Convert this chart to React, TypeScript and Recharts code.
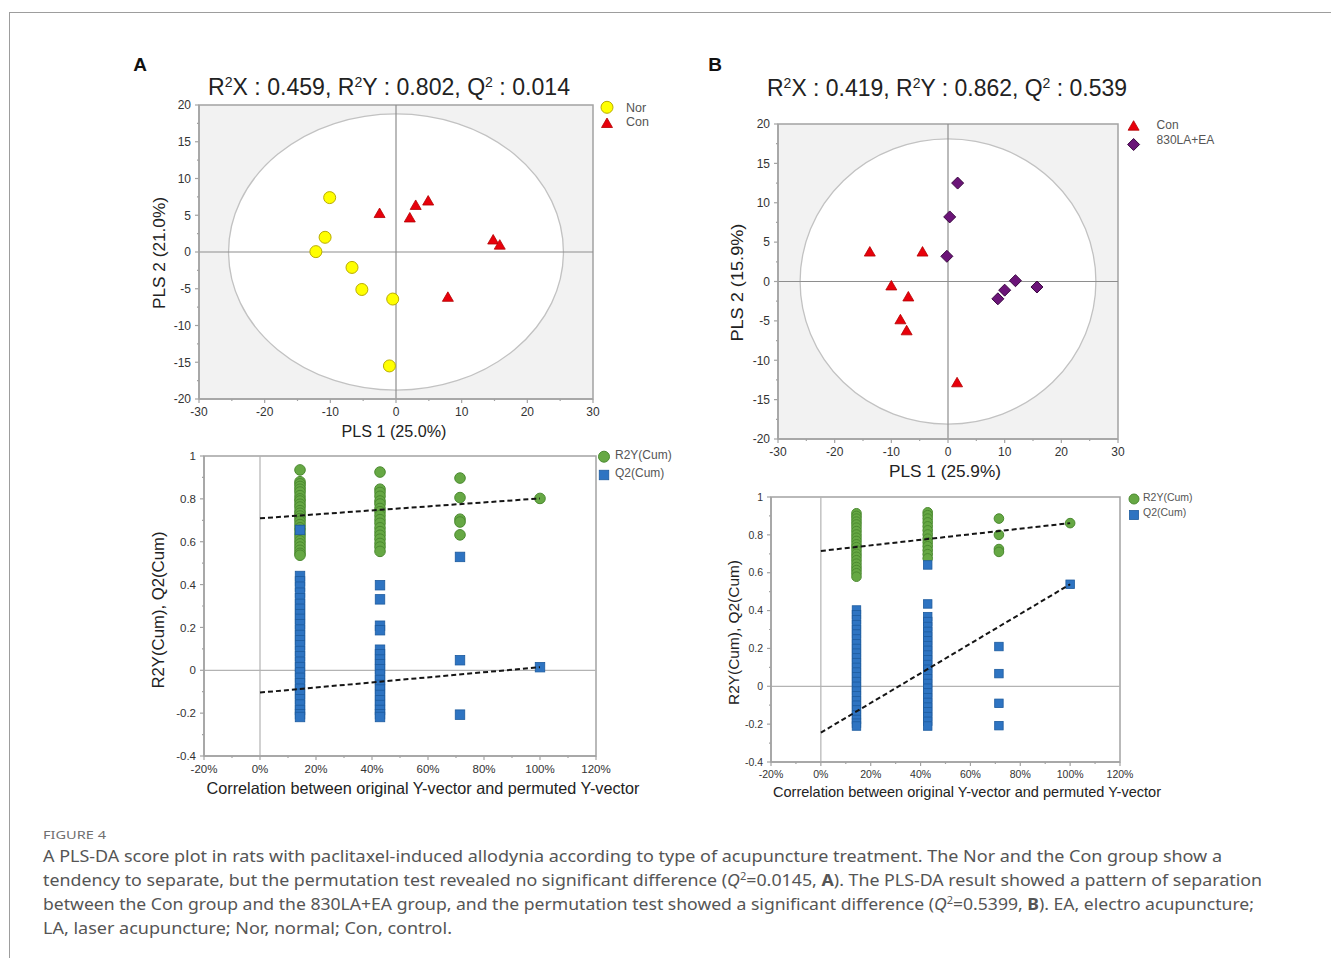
import React from 'react';
import { ScatterChart, Scatter, XAxis, YAxis, CartesianGrid, ReferenceLine, ReferenceArea } from 'recharts';

const FONT = '"Liberation Sans", Arial, Helvetica, sans-serif';
const CAP_FONT = '"Noto Sans", "Open Sans", sans-serif';
const AXIS = '#a3a3a3';

// ---------------- Panel A : PLS-DA score plot (Nor vs Con) ----------------
const norX = [-10.1, -10.8, -12.2, -6.7, -5.2, -0.5, -1.0];
const norY = [7.4, 2.0, 0.05, -2.1, -5.1, -6.4, -15.5];
const conAX = [-2.5, 2.1, 3.0, 4.9, 14.8, 15.8, 7.9];
const conAY = [5.3, 4.7, 6.4, 7.0, 1.7, 1.0, -6.1];
const ellipseA = [25.5, 18.8];

// ---------------- Panel B : PLS-DA score plot (Con vs 830LA+EA) ----------------
const conBX = [-13.8, -4.5, -10.0, -7.0, -8.4, -7.3, 1.6];
const conBY = [3.8, 3.8, -0.5, -1.9, -4.8, -6.2, -12.8];
const laeaX = [1.7, 0.3, -0.2, 8.8, 10.0, 11.9, 15.7];
const laeaY = [12.5, 8.2, 3.2, -2.2, -1.1, 0.1, -0.7];
const ellipseB = [26.1, 18.1];

// ---------------- permutation tests ----------------
const permCorr = [14.29, 42.86, 71.43, 100];
const permLineX = [0, 100];

const permA_R2Y_14 = [0.935, 0.88, 0.87, 0.858, 0.845, 0.832, 0.815, 0.8, 0.79, 0.775, 0.762, 0.745, 0.733, 0.72, 0.708, 0.695, 0.68, 0.665, 0.652, 0.635, 0.62, 0.604, 0.59, 0.575, 0.56, 0.546, 0.537];
const permA_R2Y_43 = [0.925, 0.845, 0.83, 0.812, 0.79, 0.776, 0.755, 0.74, 0.722, 0.703, 0.686, 0.665, 0.647, 0.63, 0.612, 0.592, 0.575, 0.555];
const permA_R2Y_71 = [0.897, 0.806, 0.705, 0.692, 0.632];
const permA_R2Y_100 = [0.802];
const permA_Q2_14 = [0.655, 0.44, 0.415, 0.39, 0.362, 0.336, 0.31, 0.287, 0.262, 0.24, 0.215, 0.19, 0.165, 0.14, 0.117, 0.09, 0.066, 0.04, 0.015, -0.01, -0.035, -0.06, -0.086, -0.11, -0.135, -0.16, -0.185, -0.205, -0.218];
const permA_Q2_43 = [0.397, 0.331, 0.208, 0.187, 0.096, 0.075, 0.05, 0.028, 0.005, -0.02, -0.045, -0.068, -0.09, -0.115, -0.14, -0.162, -0.185, -0.205, -0.218];
const permA_Q2_71 = [0.529, 0.047, -0.207];
const permA_Q2_100 = [0.0145];
const permA_R2Line = [0.709, 0.802];
const permA_Q2Line = [-0.104, 0.0145];

const permB_R2Y_14 = [0.914, 0.9, 0.886, 0.87, 0.855, 0.838, 0.82, 0.802, 0.785, 0.768, 0.75, 0.735, 0.718, 0.7, 0.684, 0.666, 0.648, 0.63, 0.614, 0.597, 0.579];
const permB_R2Y_43 = [0.919, 0.904, 0.886, 0.866, 0.845, 0.824, 0.802, 0.78, 0.76, 0.74, 0.719, 0.698, 0.676];
const permB_R2Y_71 = [0.886, 0.8, 0.725, 0.71];
const permB_R2Y_100 = [0.862];
const permB_Q2_14 = [0.403, 0.378, 0.352, 0.326, 0.3, 0.276, 0.25, 0.224, 0.2, 0.175, 0.15, 0.125, 0.1, 0.075, 0.05, 0.025, 0.0, -0.025, -0.05, -0.076, -0.1, -0.125, -0.15, -0.175, -0.195, -0.21];
const permB_Q2_43 = [0.641, 0.435, 0.368, 0.342, 0.316, 0.29, 0.265, 0.24, 0.215, 0.19, 0.165, 0.14, 0.115, 0.09, 0.065, 0.04, 0.015, -0.01, -0.035, -0.06, -0.085, -0.11, -0.135, -0.16, -0.185, -0.21];
const permB_Q2_71 = [0.21, 0.067, -0.09, -0.208];
const permB_Q2_100 = [0.539];
const permB_R2Line = [0.715, 0.862];
const permB_Q2Line = [-0.245, 0.539];

// ---------------- ticks ----------------
const scoreXTicks = [-30, -25, -20, -15, -10, -5, 0, 5, 10, 15, 20, 25, 30];
const scoreXMajors = [-30, -20, -10, 0, 10, 20, 30];
const scoreYTicks = [-20, -17.5, -15, -12.5, -10, -7.5, -5, -2.5, 0, 2.5, 5, 7.5, 10, 12.5, 15, 17.5, 20];
const scoreYMajors = [-20, -15, -10, -5, 0, 5, 10, 15, 20];
const permXTicks = [-20, -10, 0, 10, 20, 30, 40, 50, 60, 70, 80, 90, 100, 110, 120];
const permXMajors = [-20, 0, 20, 40, 60, 80, 100, 120];
const permYTicks = [-0.4, -0.3, -0.2, -0.1, 0, 0.1, 0.2, 0.3, 0.4, 0.5, 0.6, 0.7, 0.8, 0.9, 1];
const permYMajors = [-0.4, -0.2, 0, 0.2, 0.4, 0.6, 0.8, 1];

// ---------------- helpers ----------------
const zip = (xs: number[], ys: number[]) => xs.map((x, i) => ({ x, y: ys[i] }));
const groups = (gs: number[][]) => gs.flatMap((vals, gi) => vals.map((v) => ({ x: permCorr[gi], y: v })));
const near = (a: number, b: number) => Math.abs(a - b) < 1e-6;

type TickCfg = { majors: number[]; fmt: (v: number) => string; fontSize: number; major: number; minor: number; gap: number };

const xTick = (c: TickCfg) => (p: any) => {
  const v = p.payload.value;
  const isMajor = c.majors.some((m) => near(m, v));
  return (
    <g>
      <line x1={p.x} x2={p.x} y1={p.y} y2={p.y + (isMajor ? c.major : c.minor)} stroke={AXIS} strokeWidth={1.2} />
      {isMajor && (
        <text x={p.x} y={p.y + c.major + c.gap} dy="0.74em" textAnchor="middle" fontSize={c.fontSize} fill="#333" fontFamily={FONT}>
          {c.fmt(v)}
        </text>
      )}
    </g>
  );
};
const yTick = (c: TickCfg) => (p: any) => {
  const v = p.payload.value;
  const isMajor = c.majors.some((m) => near(m, v));
  return (
    <g>
      <line x1={p.x} x2={p.x - (isMajor ? c.major : c.minor)} y1={p.y} y2={p.y} stroke={AXIS} strokeWidth={1.2} />
      {isMajor && (
        <text x={p.x - c.major - c.gap} y={p.y} dy="0.36em" textAnchor="end" fontSize={c.fontSize} fill="#333" fontFamily={FONT}>
          {c.fmt(v)}
        </text>
      )}
    </g>
  );
};

const circleShape = (r: number, fill: string, stroke: string) => (p: any) => (
  <circle cx={p.cx} cy={p.cy} r={r} fill={fill} stroke={stroke} strokeWidth={1} />
);
const squareShape = (s: number, fill: string, stroke: string) => (p: any) => (
  <rect x={p.cx - s / 2} y={p.cy - s / 2} width={s} height={s} fill={fill} stroke={stroke} strokeWidth={0.8} />
);
const triShape = (s: number, fill: string, stroke: string) => (p: any) => (
  <polygon
    points={`${p.cx},${p.cy - s * 0.5} ${p.cx + s * 0.55},${p.cy + s * 0.45} ${p.cx - s * 0.55},${p.cy + s * 0.45}`}
    fill={fill}
    stroke={stroke}
    strokeWidth={0.8}
  />
);
const diamondShape = (s: number, fill: string, stroke: string) => (p: any) => (
  <polygon
    points={`${p.cx},${p.cy - s / 2} ${p.cx + s / 2},${p.cy} ${p.cx},${p.cy + s / 2} ${p.cx - s / 2},${p.cy}`}
    fill={fill}
    stroke={stroke}
    strokeWidth={1}
  />
);
const noShape = () => <g />;
const ellipseShape = (p: any) => (
  <ellipse
    cx={p.x + p.width / 2}
    cy={p.y + p.height / 2}
    rx={Math.abs(p.width) / 2}
    ry={Math.abs(p.height) / 2}
    fill="#ffffff"
    stroke="#c2c2c2"
    strokeWidth={1.3}
  />
);

const YELLOW = circleShape(6, '#ffff00', '#b9ac00');
const RED_TRI = triShape(10, '#e8000b', '#b30000');
const PURPLE = diamondShape(12, '#6b1478', '#3a0840');
const GREEN = (r: number) => circleShape(r, '#66a844', '#4b8a30');
const BLUE = (s: number) => squareShape(s, '#2e74c2', '#1d5b9e');

type Rect = { x: number; y: number; w: number; h: number };
const PAD = { l: 60, t: 10, r: 30, b: 40 };

function ScorePanel({ rect, ellipse, tickFont, children }: { rect: Rect; ellipse: number[]; tickFont: number; children: React.ReactNode }) {
  return (
    <div style={{ position: 'absolute', left: rect.x - PAD.l, top: rect.y - PAD.t }}>
      <ScatterChart width={rect.w + PAD.l + PAD.r} height={rect.h + PAD.t + PAD.b} margin={{ top: PAD.t, right: PAD.r, left: 0, bottom: 0 }}>
        <CartesianGrid horizontal={false} vertical={false} fill="#f2f2f2" />
        <XAxis
          type="number"
          dataKey="x"
          domain={[-30, 30]}
          ticks={scoreXTicks}
          interval={0}
          allowDataOverflow
          height={PAD.b}
          tickSize={0}
          tickMargin={0}
          tickLine={false}
          axisLine={{ stroke: AXIS, strokeWidth: 1.5 }}
          tick={xTick({ majors: scoreXMajors, fmt: (v) => String(v), fontSize: tickFont, major: 4, minor: 2, gap: 4 })}
        />
        <YAxis
          type="number"
          dataKey="y"
          domain={[-20, 20]}
          ticks={scoreYTicks}
          interval={0}
          allowDataOverflow
          width={PAD.l}
          tickSize={0}
          tickMargin={0}
          tickLine={false}
          axisLine={{ stroke: AXIS, strokeWidth: 1.5 }}
          tick={yTick({ majors: scoreYMajors, fmt: (v) => String(v), fontSize: tickFont, major: 4, minor: 2, gap: 4 })}
        />
        <ReferenceArea x1={-ellipse[0]} x2={ellipse[0]} y1={-ellipse[1]} y2={ellipse[1]} shape={ellipseShape} />
        <ReferenceLine x={0} stroke="#8e8e8e" strokeWidth={1.2} />
        <ReferenceLine y={0} stroke="#8e8e8e" strokeWidth={1.2} />
        <ReferenceArea x1={-30} x2={30} y1={-20} y2={20} fill="none" fillOpacity={0} stroke={AXIS} strokeWidth={1.5} />
        {children}
      </ScatterChart>
    </div>
  );
}

function PermPanel({ rect, tickFont, children }: { rect: Rect; tickFont: number; children: React.ReactNode }) {
  return (
    <div style={{ position: 'absolute', left: rect.x - PAD.l, top: rect.y - PAD.t }}>
      <ScatterChart width={rect.w + PAD.l + PAD.r} height={rect.h + PAD.t + PAD.b} margin={{ top: PAD.t, right: PAD.r, left: 0, bottom: 0 }}>
        <XAxis
          type="number"
          dataKey="x"
          domain={[-20, 120]}
          ticks={permXTicks}
          interval={0}
          allowDataOverflow
          height={PAD.b}
          tickSize={0}
          tickMargin={0}
          tickLine={false}
          axisLine={{ stroke: AXIS, strokeWidth: 1.5 }}
          tick={xTick({ majors: permXMajors, fmt: (v) => `${v}%`, fontSize: tickFont, major: 4, minor: 2, gap: 4 })}
        />
        <YAxis
          type="number"
          dataKey="y"
          domain={[-0.4, 1]}
          ticks={permYTicks}
          interval={0}
          allowDataOverflow
          width={PAD.l}
          tickSize={0}
          tickMargin={0}
          tickLine={false}
          axisLine={{ stroke: AXIS, strokeWidth: 1.5 }}
          tick={yTick({ majors: permYMajors, fmt: (v) => String(Math.round(v * 10) / 10), fontSize: tickFont, major: 4, minor: 2, gap: 4 })}
        />
        <ReferenceLine x={0} stroke="#b3b3b3" strokeWidth={1.2} />
        <ReferenceLine y={0} stroke="#b3b3b3" strokeWidth={1.2} />
        <ReferenceArea x1={-20} x2={120} y1={-0.4} y2={1} fill="none" fillOpacity={0} stroke={AXIS} strokeWidth={1.5} />
        {children}
      </ScatterChart>
    </div>
  );
}

const DASH = { stroke: '#151515', strokeWidth: 2, strokeDasharray: '5 3' };

function Sup({ children, size, rise }: { children: React.ReactNode; size: number; rise: number }) {
  return (
    <tspan dy={-rise} fontSize={size}>
      {children}
    </tspan>
  );
}

export default function App() {
  const rectA: Rect = { x: 199, y: 105, w: 394, h: 294 };
  const rectB: Rect = { x: 778, y: 124, w: 340, h: 315 };
  const rectPA: Rect = { x: 204, y: 456, w: 392, h: 300 };
  const rectPB: Rect = { x: 771, y: 497, w: 349, h: 265 };

  const t = { fontFamily: FONT, fill: '#222' };
  const leg = { fontFamily: FONT, fill: '#555' };

  const titleTs = (a: string, b: string, c: string) => (
    <>
      R<Sup size={14} rise={8}>2</Sup>
      <tspan dy={8}>X : {a}, R</tspan>
      <Sup size={14} rise={8}>2</Sup>
      <tspan dy={8}>Y : {b}, Q</tspan>
      <Sup size={14} rise={8}>2</Sup>
      <tspan dy={8}> : {c}</tspan>
    </>
  );

  return (
    <div style={{ position: 'absolute', left: 0, top: 0, width: 1331, height: 958, background: '#fff', overflow: 'hidden' }}>
      <div style={{ position: 'absolute', left: 9, top: 12, width: 1330, height: 960, borderTop: '1.5px solid #9d9d9d', borderLeft: '1.5px solid #9d9d9d' }} />

      <ScorePanel rect={rectA} ellipse={ellipseA} tickFont={12}>
        <Scatter data={zip(norX, norY)} shape={YELLOW} isAnimationActive={false} />
        <Scatter data={zip(conAX, conAY)} shape={RED_TRI} isAnimationActive={false} />
      </ScorePanel>

      <ScorePanel rect={rectB} ellipse={ellipseB} tickFont={12}>
        <Scatter data={zip(conBX, conBY)} shape={RED_TRI} isAnimationActive={false} />
        <Scatter data={zip(laeaX, laeaY)} shape={PURPLE} isAnimationActive={false} />
      </ScorePanel>

      <PermPanel rect={rectPA} tickFont={11.5}>
        <Scatter data={groups([permA_R2Y_14, permA_R2Y_43, permA_R2Y_71, permA_R2Y_100])} shape={GREEN(5.3)} isAnimationActive={false} />
        <Scatter data={groups([permA_Q2_14, permA_Q2_43, permA_Q2_71, permA_Q2_100])} shape={BLUE(9.5)} isAnimationActive={false} />
        <Scatter data={zip(permLineX, permA_R2Line)} line={DASH} shape={noShape} isAnimationActive={false} />
        <Scatter data={zip(permLineX, permA_Q2Line)} line={DASH} shape={noShape} isAnimationActive={false} />
      </PermPanel>

      <PermPanel rect={rectPB} tickFont={10.5}>
        <Scatter data={groups([permB_R2Y_14, permB_R2Y_43, permB_R2Y_71, permB_R2Y_100])} shape={GREEN(4.8)} isAnimationActive={false} />
        <Scatter data={groups([permB_Q2_14, permB_Q2_43, permB_Q2_71, permB_Q2_100])} shape={BLUE(8.5)} isAnimationActive={false} />
        <Scatter data={zip(permLineX, permB_R2Line)} line={DASH} shape={noShape} isAnimationActive={false} />
        <Scatter data={zip(permLineX, permB_Q2Line)} line={DASH} shape={noShape} isAnimationActive={false} />
      </PermPanel>

      <svg width={1331} height={958} style={{ position: 'absolute', left: 0, top: 0, pointerEvents: 'none' }}>
        {/* panel letters */}
        <text x={140} y={71} fontSize={19} fontWeight="bold" textAnchor="middle" {...t} fill="#111">A</text>
        <text x={715} y={71} fontSize={19} fontWeight="bold" textAnchor="middle" {...t} fill="#111">B</text>

        {/* titles */}
        <text x={389} y={95} fontSize={23} textAnchor="middle" textLength={362} lengthAdjust="spacingAndGlyphs" {...t}>
          {titleTs('0.459', '0.802', '0.014')}
        </text>
        <text x={947} y={95.5} fontSize={23} textAnchor="middle" textLength={360} lengthAdjust="spacingAndGlyphs" {...t}>
          {titleTs('0.419', '0.862', '0.539')}
        </text>

        {/* score plot axis titles */}
        <text x={394} y={437} fontSize={16} textAnchor="middle" textLength={105} lengthAdjust="spacingAndGlyphs" {...t}>PLS 1 (25.0%)</text>
        <text transform="translate(165.2,253) rotate(-90)" fontSize={16} textAnchor="middle" textLength={112} lengthAdjust="spacingAndGlyphs" {...t}>PLS 2 (21.0%)</text>
        <text x={945} y={477} fontSize={17} textAnchor="middle" textLength={112} lengthAdjust="spacingAndGlyphs" {...t}>PLS 1 (25.9%)</text>
        <text transform="translate(742.8,282.6) rotate(-90)" fontSize={17} textAnchor="middle" textLength={118} lengthAdjust="spacingAndGlyphs" {...t}>PLS 2 (15.9%)</text>

        {/* permutation axis titles */}
        <text x={423} y={794} fontSize={16.5} textAnchor="middle" textLength={433} lengthAdjust="spacingAndGlyphs" {...t}>Correlation between original Y-vector and permuted Y-vector</text>
        <text transform="translate(164.3,610) rotate(-90)" fontSize={16.5} textAnchor="middle" textLength={157} lengthAdjust="spacingAndGlyphs" {...t}>R2Y(Cum), Q2(Cum)</text>
        <text x={967} y={797} fontSize={15} textAnchor="middle" textLength={388} lengthAdjust="spacingAndGlyphs" {...t}>Correlation between original Y-vector and permuted Y-vector</text>
        <text transform="translate(738.8,632.5) rotate(-90)" fontSize={15.3} textAnchor="middle" textLength={145} lengthAdjust="spacingAndGlyphs" {...t}>R2Y(Cum), Q2(Cum)</text>

        {/* legends */}
        {YELLOW({ cx: 607, cy: 107.3 })}
        {RED_TRI({ cx: 607, cy: 123 })}
        <text x={626} y={111.8} fontSize={12.5} {...leg}>Nor</text>
        <text x={626} y={126.2} fontSize={12.5} {...leg}>Con</text>

        {RED_TRI({ cx: 1133.6, cy: 125.7 })}
        {PURPLE({ cx: 1133.6, cy: 144.5 })}
        <text x={1156.6} y={129} fontSize={12} {...leg}>Con</text>
        <text x={1156.6} y={144.3} fontSize={12} {...leg}>830LA+EA</text>

        {GREEN(5.5)({ cx: 604, cy: 456.7 })}
        {BLUE(9.5)({ cx: 604, cy: 475 })}
        <text x={615} y={459.2} fontSize={12} {...leg}>R2Y(Cum)</text>
        <text x={615} y={477.2} fontSize={12} {...leg}>Q2(Cum)</text>

        {GREEN(5)({ cx: 1134, cy: 499 })}
        {BLUE(9)({ cx: 1134, cy: 515 })}
        <text x={1143} y={500.5} fontSize={10.5} {...leg}>R2Y(Cum)</text>
        <text x={1143} y={515.8} fontSize={10.5} {...leg}>Q2(Cum)</text>

        {/* caption */}
        <text x={43} y={839} fontSize={11.5} fontFamily={CAP_FONT} fill="#6f6f6f" textLength={63} lengthAdjust="spacingAndGlyphs">FIGURE 4</text>
        <text x={43} y={862} fontSize={16} fontFamily={CAP_FONT} fill="#555" textLength={1179} lengthAdjust="spacingAndGlyphs">
          A PLS-DA score plot in rats with paclitaxel-induced allodynia according to type of acupuncture treatment. The Nor and the Con group show a
        </text>
        <text x={43} y={886} fontSize={16} fontFamily={CAP_FONT} fill="#555" textLength={1219} lengthAdjust="spacingAndGlyphs">
          tendency to separate, but the permutation test revealed no significant difference (<tspan fontStyle="italic">Q</tspan>
          <tspan dy={-6} fontSize={10}>2</tspan>
          <tspan dy={6}>=0.0145, </tspan>
          <tspan fontWeight="bold">A</tspan>). The PLS-DA result showed a pattern of separation
        </text>
        <text x={43} y={910} fontSize={16} fontFamily={CAP_FONT} fill="#555" textLength={1211} lengthAdjust="spacingAndGlyphs">
          between the Con group and the 830LA+EA group, and the permutation test showed a significant difference (<tspan fontStyle="italic">Q</tspan>
          <tspan dy={-6} fontSize={10}>2</tspan>
          <tspan dy={6}>=0.5399, </tspan>
          <tspan fontWeight="bold">B</tspan>). EA, electro acupuncture;
        </text>
        <text x={43} y={934} fontSize={16} fontFamily={CAP_FONT} fill="#555" textLength={409} lengthAdjust="spacingAndGlyphs">
          LA, laser acupuncture; Nor, normal; Con, control.
        </text>
      </svg>
    </div>
  );
}
